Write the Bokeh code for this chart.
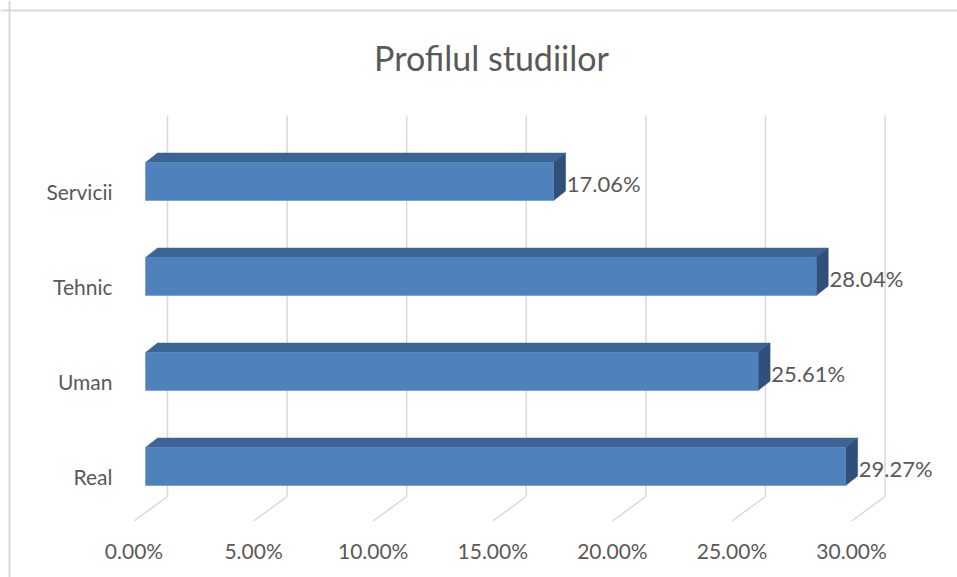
from bokeh.plotting import figure
from bokeh.models import Range1d, Span
from bokeh.core.properties import value
from bokeh.embed import file_html
from bokeh.resources import INLINE

# ---- data ----
categories = ["Real", "Uman", "Tehnic", "Servicii"]
values = [29.27, 25.61, 28.04, 17.06]
value_labels = ["29.27%", "25.61%", "28.04%", "17.06%"]
ticks = [0, 5, 10, 15, 20, 25, 30]
tick_labels = ["0.00%", "5.00%", "10.00%", "15.00%", "20.00%", "25.00%", "30.00%"]
title_text = "Profilul studiilor"

# ---- layout constants ----
W, H = 957, 577
PX = 23.92                    # pixels per percent
X0_SCREEN = 145               # px where 0% (bar front) lies
x_start = -X0_SCREEN / PX
x_end = x_start + W / PX

BAR_DX = 12 / PX              # bar depth, horizontal (percent units)
BAR_DY = 9.5                  # bar depth, vertical (px units)
WALL_DX = 22 / PX             # back wall offset
FLOOR_DX = -11.5 / PX         # floor front offset
BAR_H = 38
BASE_Y = 466                  # centre of first bar (px from top)
SLOT = 95
GRID_TOP = 115
WALL_BOTTOM = 496
FLOOR_FRONT = 520.5
TICK_Y = 550
CAT_X = -33 / PX
FONT = "Lato"
TXT = "#595959"
GRID = "#D9D9D9"

p = figure(width=W, height=H, output_backend="svg", toolbar_location=None,
           x_range=Range1d(x_start, x_end), y_range=Range1d(H, 0),
           min_border_left=0, min_border_top=0, min_border_right=0, min_border_bottom=0,
           border_fill_color="white", background_fill_color="white",
           outline_line_color=None)
p.axis.visible = False
p.grid.visible = False

# chart-area border (left and top edges)
p.add_layout(Span(location=x_start + 9 / PX, dimension="height",
                  line_color=GRID, line_width=2))
p.add_layout(Span(location=10, dimension="width", line_color=GRID, line_width=2))

# gridlines: back wall verticals and floor diagonals
gx = [t + WALL_DX for t in ticks]
p.segment(x0=gx, y0=[GRID_TOP] * len(ticks), x1=gx, y1=[WALL_BOTTOM] * len(ticks),
          line_color=GRID, line_width=1.5)
p.segment(x0=gx, y0=[WALL_BOTTOM] * len(ticks), x1=[t + FLOOR_DX for t in ticks],
          y1=[FLOOR_FRONT] * len(ticks), line_color=GRID, line_width=1.5)

# bars
yc = [BASE_Y - SLOT * i for i in range(len(categories))]
tops = [y - BAR_H / 2 for y in yc]
bots = [y + BAR_H / 2 for y in yc]

top_xs, top_ys, side_xs, side_ys = [], [], [], []
for v, t, b in zip(values, tops, bots):
    top_xs.append([0, BAR_DX, v + BAR_DX, v])
    top_ys.append([t, t - BAR_DY, t - BAR_DY, t])
    side_xs.append([v, v + BAR_DX, v + BAR_DX, v])
    side_ys.append([t, t - BAR_DY, b - BAR_DY, b])

p.patches(xs=top_xs, ys=top_ys, fill_color="#3C6494", line_color="#3C6494", line_width=0.5)
p.patches(xs=side_xs, ys=side_ys, fill_color="#2F5078", line_color="#2F5078", line_width=0.5)
p.quad(left=[0] * len(values), right=values, top=tops, bottom=bots,
       fill_color="#4F81BD", line_color="#5B8BC4", line_width=0.5)

# value labels
p.text(x=[v + BAR_DX + 0.05 for v in values], y=[y + 2 for y in yc], text=value_labels,
       text_font=value(FONT), text_font_size="22px", text_color=TXT,
       text_align="left", text_baseline="middle")

# category labels
p.text(x=[CAT_X] * len(categories), y=[y + 10 for y in yc], text=categories,
       text_font=value(FONT), text_font_size="21px", text_color=TXT,
       text_align="right", text_baseline="middle")

# tick labels
p.text(x=[t + FLOOR_DX for t in ticks], y=[TICK_Y] * len(ticks), text=tick_labels,
       text_font=value(FONT), text_font_size="21px", text_color=TXT,
       text_align="center", text_baseline="middle")

# title
p.text(x=[(491 - X0_SCREEN) / PX], y=[57], text=[title_text],
       text_font=value(FONT), text_font_size="34px", text_color=TXT,
       text_align="center", text_baseline="middle")

open("out.html", "w").write(file_html(p, INLINE))
